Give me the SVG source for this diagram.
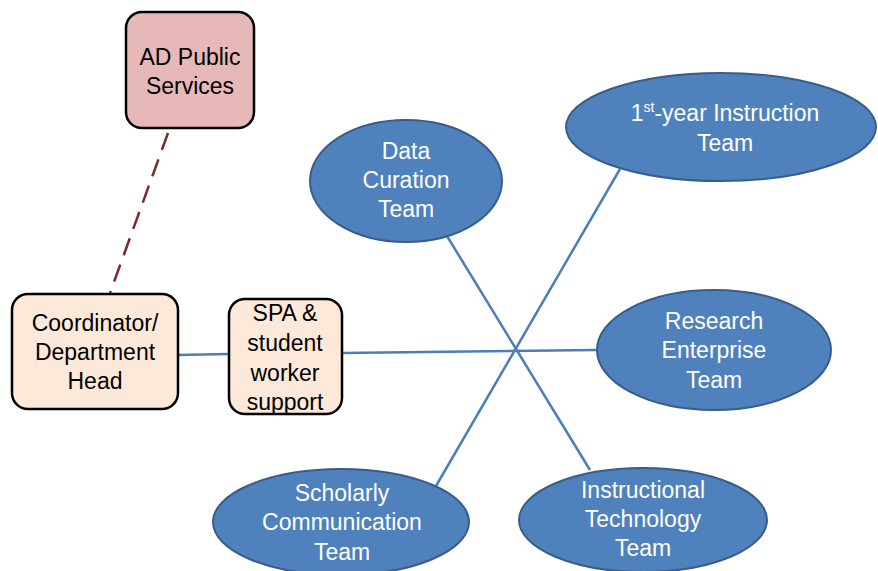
<svg xmlns="http://www.w3.org/2000/svg" width="878" height="571" viewBox="0 0 878 571">
<style>
text{font-family:"Liberation Sans",Arial,sans-serif;font-size:23px;text-anchor:middle}
.dk{fill:#000}
.wt{fill:#fff}
.box{stroke:#000;stroke-width:2.5}
.ell{fill:#4f81bd;stroke:#385d8a;stroke-width:2}
.ln{stroke:#4a7ebb;stroke-width:2.5;fill:none}
</style>
<rect width="878" height="571" fill="#fff"/>
<g id="connectors">
<line class="ln" x1="178" y1="355" x2="229" y2="354"/>
<line class="ln" x1="342" y1="353" x2="597" y2="350"/>
<line class="ln" x1="447" y1="236" x2="590" y2="470"/>
<line class="ln" x1="620" y1="169" x2="436" y2="486"/>
<line x1="168" y1="133" x2="110" y2="293" stroke="#772c2a" stroke-width="2.5" stroke-dasharray="18,10"/>
</g>
<g id="ad-public-services">
<rect class="box" x="126" y="12" width="128" height="116" rx="16" fill="#e6b9b8"/>
<text class="dk" x="190" y="65">AD Public</text>
<text class="dk" x="190" y="94">Services</text>
</g>
<g id="coordinator">
<rect class="box" x="12" y="294" width="166" height="115" rx="16" fill="#fde9d9"/>
<text class="dk" x="95" y="331">Coordinator/</text>
<text class="dk" x="95" y="360">Department</text>
<text class="dk" x="95" y="389">Head</text>
</g>
<g id="spa">
<rect class="box" x="229" y="299" width="113" height="115" rx="16" fill="#fde9d9"/>
<text class="dk" x="285" y="321">SPA &amp;</text>
<text class="dk" x="285" y="351">student</text>
<text class="dk" x="285" y="381">worker</text>
<text class="dk" x="285" y="410">support</text>
</g>
<g id="data-curation">
<ellipse class="ell" cx="406" cy="181" rx="96" ry="61"/>
<text class="wt" x="406" y="159">Data</text>
<text class="wt" x="406" y="188">Curation</text>
<text class="wt" x="406" y="217">Team</text>
</g>
<g id="first-year">
<ellipse class="ell" cx="721" cy="127" rx="155" ry="54"/>
<text class="wt" x="725" y="121">1<tspan font-size="14" dy="-9">st</tspan><tspan dy="9">-year Instruction</tspan></text>
<text class="wt" x="725" y="151">Team</text>
</g>
<g id="research">
<ellipse class="ell" cx="714" cy="350" rx="117" ry="60"/>
<text class="wt" x="714" y="329">Research</text>
<text class="wt" x="714" y="358">Enterprise</text>
<text class="wt" x="714" y="388">Team</text>
</g>
<g id="instructional-tech">
<ellipse class="ell" cx="643" cy="520" rx="124" ry="52"/>
<text class="wt" x="643" y="498">Instructional</text>
<text class="wt" x="643" y="527">Technology</text>
<text class="wt" x="643" y="556">Team</text>
</g>
<g id="scholarly">
<ellipse class="ell" cx="341" cy="522" rx="128" ry="53"/>
<text class="wt" x="342" y="501">Scholarly</text>
<text class="wt" x="342" y="530">Communication</text>
<text class="wt" x="342" y="560">Team</text>
</g>
</svg>
